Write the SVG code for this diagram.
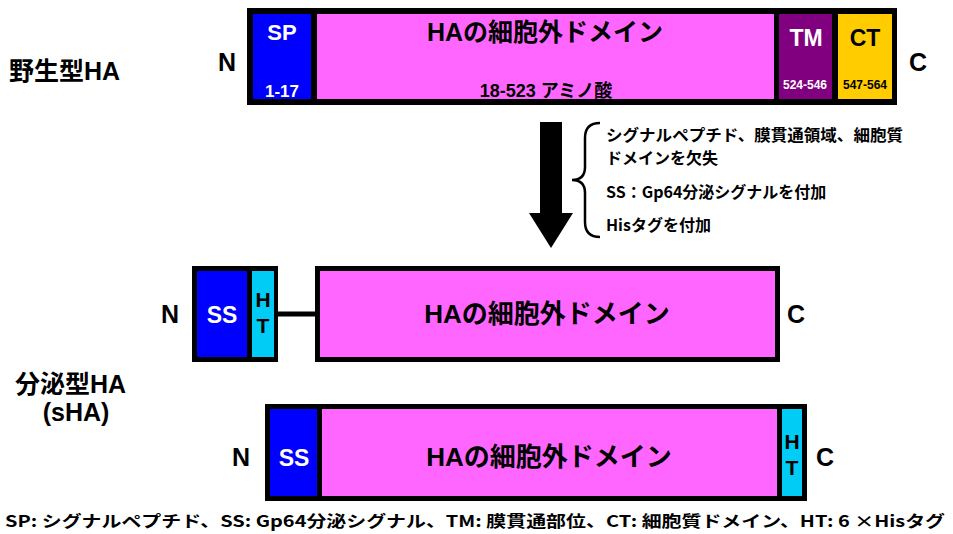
<svg xmlns="http://www.w3.org/2000/svg" width="953" height="534" viewBox="0 0 953 534">
<style>
text{font-family:"Liberation Sans","Noto Sans CJK JP",sans-serif;font-weight:bold;}
.lbl{fill:#000;}
.term{font-size:25px;fill:#000;text-anchor:middle;}
.mid{text-anchor:middle;}
.note{font-size:16px;font-family:"Noto Sans CJK JP","Liberation Sans",sans-serif;font-weight:600;}
.blk{fill:#000;}
.sp{fill:#0000FF;}
.ha{fill:#FF66FF;}
.tm{fill:#800080;}
.ct{fill:#FFCC00;}
.ht{fill:#00CCF5;}
</style>
<rect width="953" height="534" fill="#fff"/>
<text x="9" y="80" class="lbl" font-size="25">野生型HA</text>
<text x="15" y="393" class="lbl" font-size="25">分泌型HA</text>
<text x="76" y="421" class="lbl mid" font-size="25">(sHA)</text>

<g id="wt">
<rect x="247" y="8" width="650" height="97" class="blk"/>
<rect x="253" y="14" width="58" height="85" class="sp"/>
<rect x="317" y="14" width="457" height="85" class="ha"/>
<rect x="779" y="14" width="53" height="85" class="tm"/>
<rect x="838" y="14" width="54" height="85" class="ct"/>
<text x="282" y="40" class="mid" font-size="22" fill="#fff">SP</text>
<text x="282" y="97" class="mid" font-size="17" fill="#fff">1-17</text>
<text x="545" y="41" class="mid" font-size="25">HAの細胞外ドメイン</text>
<text x="546" y="97" class="mid" font-size="18">18-523 アミノ酸</text>
<text x="806" y="46" class="mid" font-size="23" fill="#fff">TM</text>
<text x="805" y="89" class="mid" font-size="12" fill="#fff">524-546</text>
<text x="865" y="46" class="mid" font-size="23">CT</text>
<text x="865" y="89" class="mid" font-size="12">547-564</text>
<text x="227" y="71" class="term">N</text>
<text x="918" y="71" class="term">C</text>
</g>

<g id="change">
<polygon points="540,122 562,122 562,213 573,213 551,248 529,213 540,213" fill="#000"/>
<path d="M600,123 Q585,123 585,138 L585,167 Q585,180 572,180 Q585,180 585,193 L585,222 Q585,237 600,237" fill="none" stroke="#000" stroke-width="2.5"/>
<text x="606" y="141" class="note" textLength="297" lengthAdjust="spacingAndGlyphs">シグナルペプチド、膜貫通領域、細胞質</text>
<text x="606" y="164" class="note">ドメインを欠失</text>
<text x="606" y="198" class="note">SS：Gp64分泌シグナルを付加</text>
<text x="606" y="231" class="note">Hisタグを付加</text>
</g>

<g id="connectors">
<line x1="276" y1="314" x2="318" y2="314" stroke="#000" stroke-width="5"/>
</g>

<g id="sha1">
<rect x="192" y="266" width="86" height="96" class="blk"/>
<rect x="197" y="271" width="50" height="86" class="sp"/>
<rect x="252" y="271" width="22" height="86" class="ht"/>
<rect x="315" y="266" width="465" height="96" class="blk"/>
<rect x="320" y="271" width="455" height="86" class="ha"/>
<text x="222" y="323" class="mid" font-size="23" fill="#fff">SS</text>
<text x="263" y="307" class="mid" font-size="21">H</text>
<text x="263" y="333" class="mid" font-size="21">T</text>
<text x="547" y="323" class="mid" font-size="26">HAの細胞外ドメイン</text>
<text x="170" y="323" class="term">N</text>
<text x="796" y="323" class="term">C</text>
</g>

<g id="sha2">
<rect x="265" y="404" width="542" height="97" class="blk"/>
<rect x="270" y="409" width="47" height="87" class="sp"/>
<rect x="322" y="409" width="455" height="87" class="ha"/>
<rect x="782" y="409" width="20" height="87" class="ht"/>
<text x="294" y="466" class="mid" font-size="23" fill="#fff">SS</text>
<text x="549" y="466" class="mid" font-size="26">HAの細胞外ドメイン</text>
<text x="792" y="449" class="mid" font-size="21">H</text>
<text x="792" y="475" class="mid" font-size="21">T</text>
<text x="241" y="466" class="term">N</text>
<text x="825" y="466" class="term">C</text>
</g>

<text x="5" y="527" class="note" font-size="16" textLength="940" lengthAdjust="spacingAndGlyphs">SP: シグナルペプチド、SS: Gp64分泌シグナル、TM: 膜貫通部位、CT: 細胞質ドメイン、HT: 6 ×Hisタグ</text>
</svg>
